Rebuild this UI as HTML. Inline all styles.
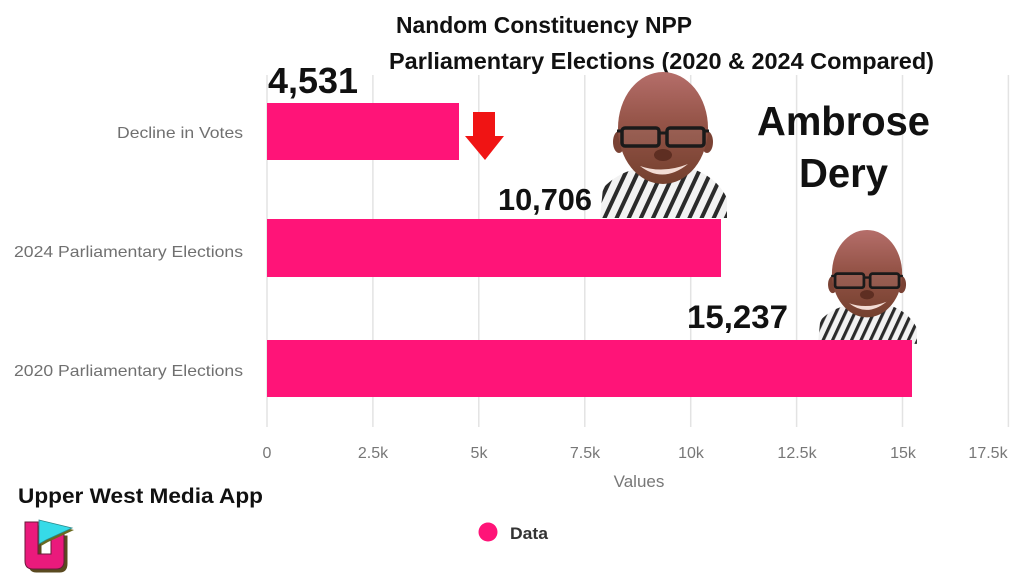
<!DOCTYPE html>
<html><head><meta charset="utf-8"><style>
html,body{margin:0;padding:0;background:#fff;}
svg{display:block;}
text{font-family:"Liberation Sans",sans-serif;}
</style></head><body>
<svg width="1024" height="576" viewBox="0 0 1024 576" xmlns="http://www.w3.org/2000/svg">
<defs>
<pattern id="stripes" patternUnits="userSpaceOnUse" width="11" height="11" patternTransform="rotate(25)">
<rect width="11" height="11" fill="#f2f2f2"/><rect width="4" height="11" fill="#2a2a2a"/>
</pattern>
<linearGradient id="skin" x1="0" y1="0" x2="0" y2="1">
<stop offset="0" stop-color="#b56e6a"/><stop offset="0.45" stop-color="#955448"/><stop offset="1" stop-color="#74402e"/>
</linearGradient>
<g id="person">
<path d="M600,218 L603,188 Q618,172 640,168 L690,168 Q716,176 727,198 L727,218 Z" fill="url(#stripes)"/>
<ellipse cx="619" cy="142" rx="6" ry="11" fill="#7a4234"/>
<ellipse cx="707" cy="142" rx="6" ry="11" fill="#7a4234"/>
<ellipse cx="663" cy="128" rx="45" ry="56" fill="url(#skin)"/>
<rect x="622" y="128" width="37" height="18" rx="3" fill="rgba(255,255,255,0.08)" stroke="#1a1a1a" stroke-width="3.5"/>
<rect x="667" y="128" width="37" height="18" rx="3" fill="rgba(255,255,255,0.08)" stroke="#1a1a1a" stroke-width="3.5"/>
<line x1="659" y1="133" x2="667" y2="133" stroke="#1a1a1a" stroke-width="3"/>
<line x1="617" y1="131" x2="622" y2="131" stroke="#1a1a1a" stroke-width="3"/>
<line x1="704" y1="131" x2="709" y2="131" stroke="#1a1a1a" stroke-width="3"/>
<ellipse cx="663" cy="155" rx="9" ry="6" fill="#5e2e22"/>
<path d="M640,166 Q663,184 688,164 Q663,174 640,166 Z" fill="#f3dcd4"/>
</g>
</defs>

<!-- gridlines -->
<g stroke="#e3e3e3" stroke-width="1.5">
<line x1="267" y1="75" x2="267" y2="427"/>
<line x1="372.9" y1="75" x2="372.9" y2="427"/>
<line x1="478.8" y1="75" x2="478.8" y2="427"/>
<line x1="584.8" y1="75" x2="584.8" y2="427"/>
<line x1="690.7" y1="75" x2="690.7" y2="427"/>
<line x1="796.6" y1="75" x2="796.6" y2="427"/>
<line x1="902.5" y1="75" x2="902.5" y2="427"/>
<line x1="1008.4" y1="75" x2="1008.4" y2="427"/>
</g>

<!-- title -->
<text x="396" y="33" font-size="23" font-weight="bold" fill="#111" textLength="296" lengthAdjust="spacingAndGlyphs">Nandom Constituency NPP</text>
<text x="389" y="69" font-size="23" font-weight="bold" fill="#111" textLength="545" lengthAdjust="spacingAndGlyphs">Parliamentary Elections (2020 &amp; 2024 Compared)</text>

<!-- photos -->
<use href="#person"/>
<use href="#person" transform="translate(349.9 173.8) scale(0.78)"/>

<!-- bars -->
<rect x="267" y="103" width="192" height="57" fill="#ff1478"/>
<rect x="267" y="219" width="454" height="58" fill="#ff1478"/>
<rect x="267" y="340" width="645" height="57" fill="#ff1478"/>

<!-- category labels -->
<g font-size="16" fill="#707070" text-anchor="end">
<text x="243" y="138" textLength="126" lengthAdjust="spacingAndGlyphs">Decline in Votes</text>
<text x="243" y="257" textLength="229" lengthAdjust="spacingAndGlyphs">2024 Parliamentary Elections</text>
<text x="243" y="376" textLength="229" lengthAdjust="spacingAndGlyphs">2020 Parliamentary Elections</text>
</g>

<!-- tick labels -->
<g font-size="16" fill="#777" text-anchor="middle">
<text x="267" y="458">0</text>
<text x="373" y="458">2.5k</text>
<text x="479" y="458">5k</text>
<text x="585" y="458">7.5k</text>
<text x="691" y="458">10k</text>
<text x="797" y="458">12.5k</text>
<text x="903" y="458">15k</text>
<text x="988" y="458">17.5k</text>
</g>
<text x="639" y="487" font-size="17" fill="#777" text-anchor="middle">Values</text>

<!-- arrow -->
<rect x="473" y="112" width="22" height="25" fill="#f01414"/>
<polygon points="465,136 504,136 485,160" fill="#f01414"/>

<!-- value labels -->
<text x="268" y="93" font-size="36" font-weight="bold" fill="#111" textLength="90" lengthAdjust="spacingAndGlyphs">4,531</text>
<text x="498" y="210" font-size="31" font-weight="bold" fill="#111" textLength="94" lengthAdjust="spacingAndGlyphs">10,706</text>
<text x="687" y="328" font-size="32" font-weight="bold" fill="#111" textLength="101" lengthAdjust="spacingAndGlyphs">15,237</text>

<text x="757" y="135" font-size="41" font-weight="bold" fill="#111" textLength="173" lengthAdjust="spacingAndGlyphs">Ambrose</text>
<text x="799" y="187" font-size="41" font-weight="bold" fill="#111" textLength="89" lengthAdjust="spacingAndGlyphs">Dery</text>

<!-- footer brand -->
<text x="18" y="503" font-size="21" font-weight="bold" fill="#111" textLength="245" lengthAdjust="spacingAndGlyphs">Upper West Media App</text>
<g>
<path d="M27,524 L40,524 L40,555 L53,555 L53,534 L66,534 L66,562 Q66,571 58,571 L35,571 Q27,571 27,562 Z" fill="#5a4a20" transform="translate(1.5 1.5)"/>
<path d="M25,522 L38,522 L38,554 L51,554 L51,533 L64,533 L64,561 Q64,569 56,569 L33,569 Q25,569 25,561 Z" fill="#ea1a7c" stroke="#6a1a3a" stroke-width="1"/>
<polygon points="41,522 74,530 48,542 41,546" fill="#6a6a20"/>
<polygon points="39,520 72,528 46,540 39,544" fill="#36dbe8" stroke="#2a8a8a" stroke-width="0.8"/>
</g>

<!-- legend -->
<circle cx="488" cy="532" r="9.5" fill="#ff1478"/>
<text x="510" y="539" font-size="17" font-weight="bold" fill="#333" textLength="38" lengthAdjust="spacingAndGlyphs">Data</text>
</svg>
</body></html>
